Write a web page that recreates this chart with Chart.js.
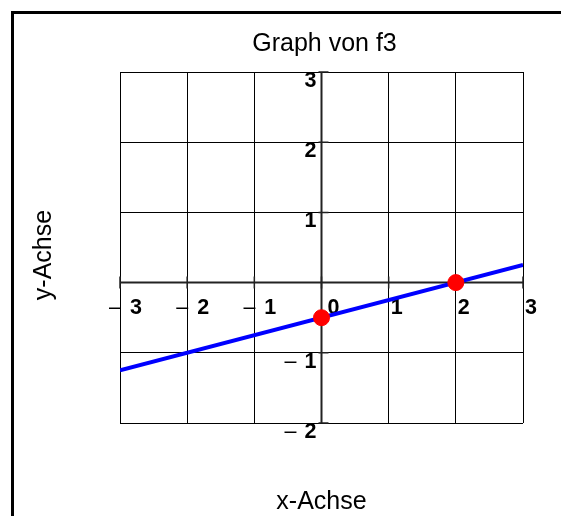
<!DOCTYPE html>
<html>
<head>
<meta charset="utf-8">
<script src="https://cdn.jsdelivr.net/npm/chart.js@4/dist/chart.umd.min.js"></script>
<style>
  html, body { margin: 0; padding: 0; background: #fff; }
  canvas { display: block; }
</style>
</head>
<body>
<canvas id="graph" width="561" height="516"></canvas>
<script>
// values
const lineX = [-3, 3];
const lineY = [-1.25, 0.25];
const pointX = [0, 2];
const pointY = [-0.5, 0];
const xTicks = [-3, -2, -1, 0, 1, 2, 3];
const yTicks = [-2, -1, 1, 2, 3];
const titleText = "Graph von f3";
const xTitle = "x-Achse";
const yTitle = "y-Achse";

const FONT = "Arial, 'Liberation Sans', sans-serif";
const TICK_PX = 21.5;
const TITLE_PX = 25;

const frameAndAxes = {
  id: "frameAndAxes",
  beforeDatasetsDraw(chart) {
    const ctx = chart.ctx;
    const xs = chart.scales.x, ys = chart.scales.y;
    const x0 = xs.getPixelForValue(0), y0 = ys.getPixelForValue(0);
    ctx.save();
    // axes through origin
    ctx.strokeStyle = "#222";
    ctx.lineWidth = 2;
    ctx.beginPath();
    ctx.moveTo(xs.left, y0); ctx.lineTo(xs.right, y0);
    ctx.moveTo(x0, ys.top); ctx.lineTo(x0, ys.bottom);
    ctx.stroke();
    ctx.lineWidth = 1.5;
    ctx.beginPath();
    xTicks.forEach(v => {
      const px = xs.getPixelForValue(v);
      ctx.moveTo(px, y0 - 6); ctx.lineTo(px, y0 + 6);
    });
    yTicks.forEach(v => {
      const py = ys.getPixelForValue(v);
      ctx.moveTo(x0 - 3, py); ctx.lineTo(x0 + 7, py);
    });
    ctx.stroke();

    // tick labels
    ctx.fillStyle = "#000";
    ctx.textBaseline = "alphabetic";
    xTicks.forEach(v => {
      const px = xs.getPixelForValue(v);
      const base = y0 + 31;
      if (v < 0) {
        ctx.font = TICK_PX + "px " + FONT;
        ctx.textAlign = "right";
        ctx.fillText("\u2013", px + 1, base);
        ctx.font = "bold " + TICK_PX + "px " + FONT;
        ctx.textAlign = "left";
        ctx.fillText(String(-v), px + 10, base);
      } else {
        ctx.font = "bold " + TICK_PX + "px " + FONT;
        ctx.textAlign = "left";
        ctx.fillText(String(v), px + (v === 0 ? 6 : 2), base);
      }
    });
    yTicks.forEach(v => {
      const py = ys.getPixelForValue(v);
      const base = py + 15;
      ctx.font = "bold " + TICK_PX + "px " + FONT;
      ctx.textAlign = "right";
      ctx.fillText(String(Math.abs(v)), x0 - 5, base);
      if (v < 0) {
        const w = ctx.measureText(String(-v)).width;
        ctx.font = TICK_PX + "px " + FONT;
        ctx.fillText("\u2013", x0 - 5 - w - 8, base);
      }
    });
    ctx.restore();
  },
  afterDraw(chart) {
    const ctx = chart.ctx;
    const xs = chart.scales.x;
    const cx = xs.getPixelForValue(0);
    ctx.save();
    // frame
    ctx.strokeStyle = "#000";
    ctx.lineWidth = 3;
    ctx.beginPath();
    ctx.moveTo(12.5, 520); ctx.lineTo(12.5, 12.5); ctx.lineTo(570, 12.5);
    ctx.stroke();
    // titles
    ctx.fillStyle = "#000";
    ctx.font = TITLE_PX + "px " + FONT;
    ctx.textAlign = "center";
    ctx.textBaseline = "alphabetic";
    ctx.fillText(titleText, cx + 3, 51);
    ctx.fillText(xTitle, cx, 509);
    ctx.translate(51, 255);
    ctx.rotate(-Math.PI / 2);
    ctx.fillText(yTitle, 0, 0);
    ctx.restore();
  }
};

new Chart(document.getElementById("graph"), {
  type: "scatter",
  data: {
    datasets: [{
      type: "line",
      data: lineX.map((x, i) => ({ x: x, y: lineY[i] })),
      borderColor: "#0000ff",
      borderWidth: 4,
      pointRadius: 0,
      fill: false,
      order: 2
    }, {
      data: pointX.map((x, i) => ({ x: x, y: pointY[i] })),
      backgroundColor: "#ff0000",
      borderColor: "#ff0000",
      pointRadius: 8,
      order: 1
    }]
  },
  options: {
    responsive: false,
    animation: false,
    layout: { padding: { left: 120, right: 38, top: 72, bottom: 93 } },
    plugins: {
      legend: { display: false },
      title: { display: false },
      tooltip: { enabled: false }
    },
    scales: {
      x: {
        type: "linear",
        min: -3, max: 3,
        ticks: { display: false, stepSize: 1 },
        grid: { color: "#000", lineWidth: 1, drawTicks: false },
        border: { display: false }
      },
      y: {
        type: "linear",
        min: -2, max: 3,
        ticks: { display: false, stepSize: 1 },
        grid: { color: "#000", lineWidth: 1, drawTicks: false },
        border: { display: false }
      }
    }
  },
  plugins: [frameAndAxes]
});
</script>
</body>
</html>
